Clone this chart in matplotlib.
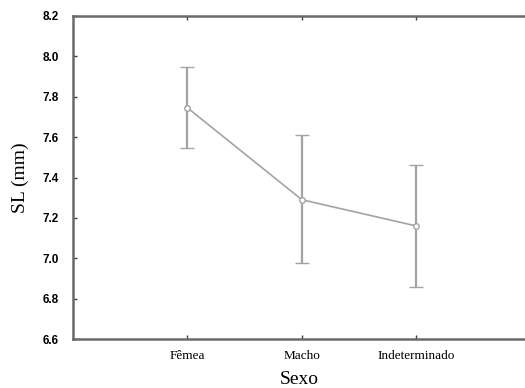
import matplotlib
matplotlib.use("Agg")
import matplotlib.pyplot as plt
import numpy as np

categories = ["Fêmea", "Macho", "Indeterminado"]
means = [7.745, 7.29, 7.16]
upper = [7.945, 7.61, 7.46]
lower = [7.545, 6.975, 6.86]

x = np.arange(len(categories))
err = [np.subtract(means, lower), np.subtract(upper, means)]

fig = plt.figure(figsize=(5.25, 3.88), dpi=100)
ax = fig.add_axes([0.139, 0.126, 0.872, 0.833])

gray = "#a3a3a3"
ax.errorbar(x, means, yerr=err, color=gray, lw=1.2, elinewidth=1.6,
            capsize=5, capthick=1.6, marker="o", ms=4, mfc="white",
            mec=gray, mew=1.0)

ax.set_xlim(-1, 3)
ax.set_ylim(6.6, 8.2)
yt = np.arange(6.6, 8.21, 0.2)
ax.set_yticks(yt)
ax.set_yticklabels([f"{v:.1f}" for v in yt],
                   fontweight="bold", family="Liberation Sans", fontsize=8.5)
ax.set_xticks(x)
ax.set_xticklabels(categories, family="Liberation Serif", fontsize=9.5)

ax.tick_params(axis="y", direction="in", length=3, width=1, color="#404040",
               pad=10)
ax.tick_params(axis="x", direction="in", length=3, width=1, color="#404040",
               pad=8, top=True)

for s in ["left", "bottom", "top"]:
    ax.spines[s].set_color("#6a6a6a")
    ax.spines[s].set_linewidth(1.8)
ax.spines["right"].set_visible(False)

ax.set_ylabel("SL (mm)", family="Liberation Serif", fontsize=14)
ax.yaxis.set_label_coords(-0.095, 0.5)
ax.set_xlabel("Sexo", family="Liberation Serif", fontsize=14, va="top")
ax.xaxis.set_label_coords(0.495, -0.098)

fig.savefig("out.png", dpi=100)
